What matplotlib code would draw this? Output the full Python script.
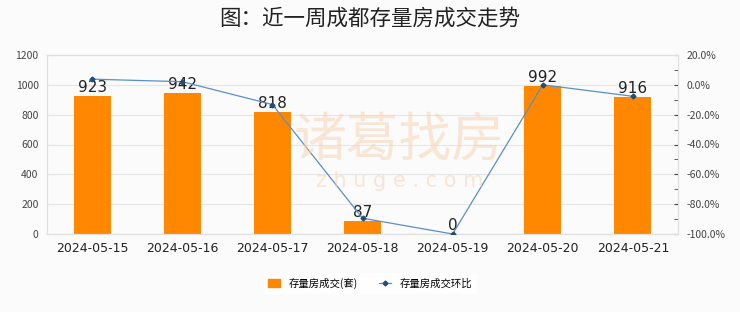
import matplotlib
matplotlib.use("Agg")
import matplotlib.pyplot as plt
from matplotlib.ticker import MultipleLocator, FuncFormatter

plt.rcParams["font.family"] = ["Noto Sans CJK SC", "DejaVu Sans"]

dates = ["2024-05-15", "2024-05-16", "2024-05-17", "2024-05-18",
         "2024-05-19", "2024-05-20", "2024-05-21"]
deals = [923, 942, 818, 87, 0, 992, 916]
change_pct = [3.8, 2.1, -13.2, -89.4, -100.0, 0.0, -7.7]

bar_color = "#ff8800"
line_color = "#5b8fc7"
bg = "#fbfbfb"

fig = plt.figure(figsize=(7.4, 3.12), dpi=100, facecolor=bg)
ax = fig.add_axes([47 / 740, 1 - 234 / 312, 631 / 740, 179 / 312])
ax.set_facecolor(bg)
ax2 = ax.twinx()

x = list(range(len(dates)))
ax.bar(x, deals, width=0.41, color=bar_color, zorder=2)
for xi, v in zip(x, deals):
    ax.text(xi, v + 8, str(v), ha="center", va="bottom", fontsize=11,
            family="DejaVu Sans", color="#222222", zorder=5)

ax.set_xlim(-0.5, len(dates) - 0.5)
ax.set_ylim(0, 1200)
ax.yaxis.set_major_locator(MultipleLocator(200))
ax.set_xticks(x)
ax.set_xticklabels(dates, fontsize=9, family="DejaVu Sans", color="#222222")
ax.tick_params(axis="x", length=0, pad=6)
ax.tick_params(axis="y", length=0, labelsize=7.5, labelcolor="#444444", pad=6)
ax.grid(axis="y", color="#e6e6e6", linewidth=0.8, zorder=0)
for side in ["left", "right", "top", "bottom"]:
    ax.spines[side].set_color("#e0e0e0")
    ax2.spines[side].set_color("#e0e0e0")

ax2.plot(x, change_pct, color=line_color, linewidth=0.9, marker="D",
         markersize=2.5, markerfacecolor="#1f4e79", markeredgecolor="#1f4e79",
         zorder=4)
ax2.set_ylim(-100, 20)
ax2.yaxis.set_major_locator(MultipleLocator(20))
ax2.yaxis.set_minor_locator(MultipleLocator(10))
ax2.yaxis.set_major_formatter(FuncFormatter(lambda v, p: f"{v:.1f}%"))
ax2.tick_params(axis="y", which="both", direction="in", length=3,
                color="#444444", labelsize=7.5, labelcolor="#444444", pad=6)

# watermark
fig.text(0.54, 0.55, "诸葛找房", fontsize=38, color="#f7d3b3", alpha=0.55,
         ha="center", va="center", zorder=0)
fig.text(0.54, 0.42, "z h u g e . c o m", fontsize=15, color="#f7d3b3",
         alpha=0.55, ha="center", va="center", family="DejaVu Sans", zorder=0)

fig.suptitle("图：近一周成都存量房成交走势", y=0.975, fontsize=15.5,
             color="#222222")

h1 = plt.Rectangle((0, 0), 1, 1, color=bar_color)
h2 = plt.Line2D([], [], color=line_color, linewidth=0.9, marker="D",
                markersize=2.5, markerfacecolor="#1f4e79",
                markeredgecolor="#1f4e79")
fig.legend([h1, h2], ["存量房成交(套)", "存量房成交环比"], loc="center",
           bbox_to_anchor=(0.5, 1 - 283 / 312), ncol=2, fontsize=7.5,
           frameon=True, facecolor="white", edgecolor="white",
           handlelength=1.2, handleheight=0.8, columnspacing=2.0)

fig.savefig("out.png", dpi=100, facecolor=bg)
